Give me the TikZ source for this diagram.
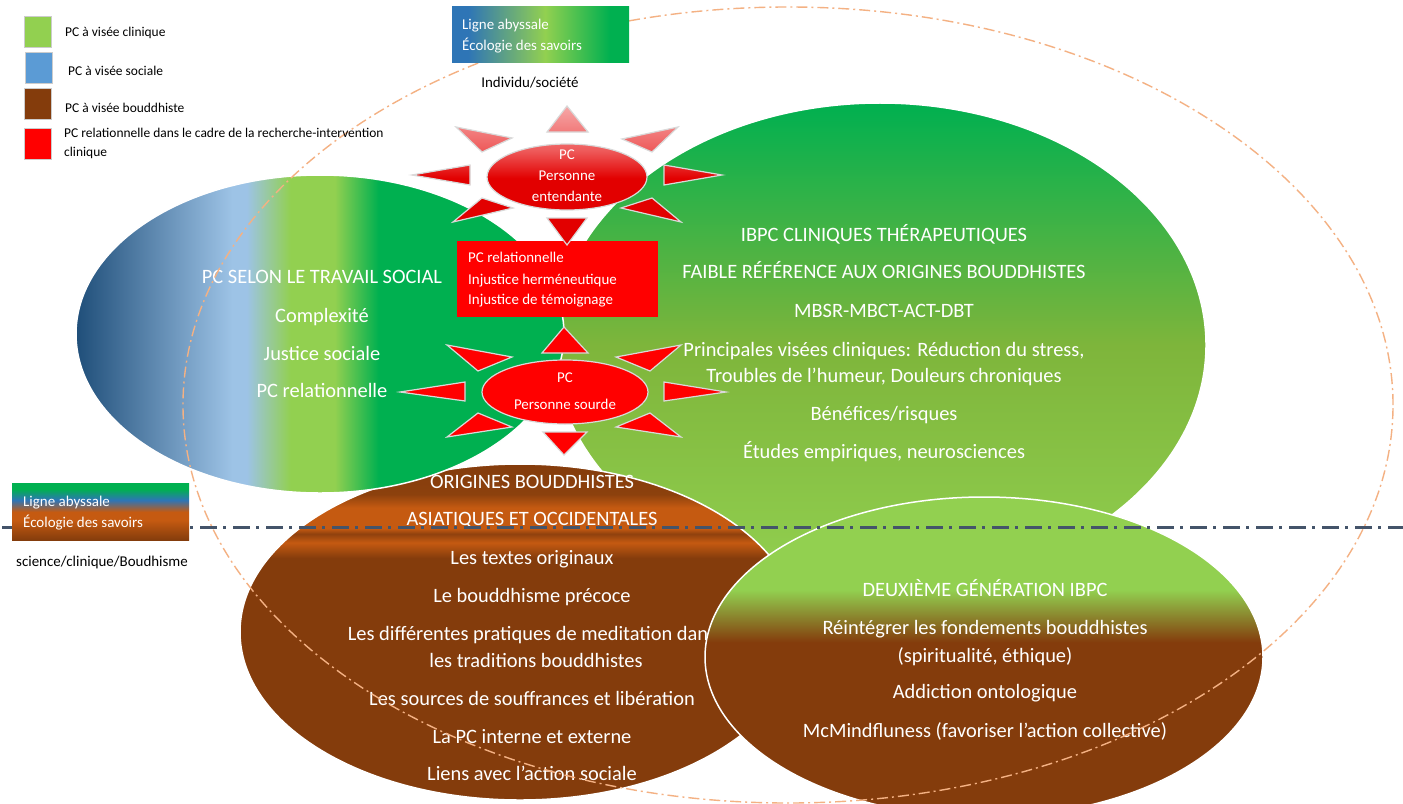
\documentclass[tikz,border=0pt]{standalone}
\usepackage{tikz}
\usepackage{fontspec}
\setmainfont{Carlito}

% palette
\definecolor{cGreen}{HTML}{00B050}
\definecolor{cLight}{HTML}{92D050}
\definecolor{ibpcMid}{HTML}{7EB53B}
\definecolor{sDark}{HTML}{1F4E79}
\definecolor{sLight}{HTML}{9DC3E6}
\definecolor{sBlue}{HTML}{2E75B6}
\definecolor{legBlue}{HTML}{5B9BD5}
\definecolor{bBrown}{HTML}{843C0C}
\definecolor{bOrange}{HTML}{C55A11}
\definecolor{bDark}{HTML}{8F410E}
\definecolor{bWarm}{HTML}{8C410D}
\definecolor{mixBR}{HTML}{8B862E}
\definecolor{sunTop}{HTML}{F6A8A8}
\definecolor{sunMid}{HTML}{EE5A5A}
\definecolor{sunRed}{HTML}{E20000}
\definecolor{dashOrange}{HTML}{F4B183}
\definecolor{slate}{HTML}{44546A}

% gradients (the filled path spans 25bp..75bp of each shading)
\pgfdeclarehorizontalshading{socialshade}{100bp}{color(0bp)=(sDark); color(25bp)=(sDark); color(41bp)=(sLight); color(42.5bp)=(sLight); color(47bp)=(cLight); color(51.5bp)=(cLight); color(56bp)=(cGreen); color(100bp)=(cGreen)}
\pgfdeclareverticalshading{ibpcshade}{100bp}{color(0bp)=(cLight); color(25bp)=(cLight); color(50bp)=(ibpcMid); color(75bp)=(cGreen); color(100bp)=(cGreen)}
\pgfdeclareverticalshading{originshade}{100bp}{color(0bp)=(bBrown); color(61bp)=(bBrown); color(63.3bp)=(bOrange); color(64.6bp)=(bDark); color(65.4bp)=(bOrange); color(68.5bp)=(bOrange); color(70.5bp)=(bWarm); color(75bp)=(bBrown); color(100bp)=(bBrown)}
\pgfdeclareverticalshading{secondshade}{100bp}{color(0bp)=(bBrown); color(52.3bp)=(bBrown); color(56.4bp)=(mixBR); color(60.5bp)=(cLight); color(100bp)=(cLight)}
\pgfdeclareverticalshading{sunshade}{100bp}{color(0bp)=(sunRed); color(49bp)=(sunRed); color(59bp)=(sunMid); color(75bp)=(sunTop); color(100bp)=(sunTop)}
\pgfdeclarehorizontalshading{topboxshade}{100bp}{color(0bp)=(sBlue); color(29.5bp)=(sBlue); color(51.3bp)=(cLight); color(69.6bp)=(cGreen); color(100bp)=(cGreen)}
\pgfdeclareverticalshading{lowboxshade}{100bp}{color(0bp)=(bBrown); color(25bp)=(bBrown); color(42.5bp)=(bOrange); color(49.6bp)=(bOrange); color(60bp)=(sBlue); color(69.7bp)=(cGreen); color(100bp)=(cGreen)}

\begin{document}
\begin{tikzpicture}[x=1bp,y=-1bp,
  bigtxt/.style={text=white,font=\fontsize{20.5}{24}\selectfont,inner sep=0pt,text height=13.2bp,text depth=0pt},
  midtxt/.style={text=white,font=\fontsize{15}{17}\selectfont,inner sep=0pt,text height=9.6bp,text depth=0pt},
  labtxt/.style={text=black,font=\fontsize{15}{17}\selectfont,inner sep=0pt,text height=9.6bp,text depth=0pt},
  keytxt/.style={text=black,font=\fontsize{13.5}{15}\selectfont,inner sep=0pt,text height=8.6bp,text depth=0pt,anchor=west},
  keybox/.style={draw=white!80!black,line width=0.6bp,inner sep=0pt,minimum width=27bp,minimum height=31bp,anchor=north west},
  bigshape/.style={draw=white,line width=1.5bp},
  sunray/.style={draw=white!85!black,line width=1.2bp},
]
\useasboundingbox (0,0) rectangle (1403,803);
\fill[white] (0,0) rectangle (1403,803);

% clinical therapeutic IBPC
\shadedraw[shading=ibpcshade,bigshape] (880,345) ellipse [x radius=326bp, y radius=242bp];
\node[bigtxt] (ibpcA) at (884,235) {IBPC CLINIQUES THÉRAPEUTIQUES};
\node[bigtxt] (ibpcB) at (884,272) {FAIBLE RÉFÉRENCE AUX ORIGINES BOUDDHISTES};
\node[bigtxt] (ibpcC) at (884,311) {MBSR-MBCT-ACT-DBT};
\node[bigtxt] (ibpcD) at (884,350) {Principales visées cliniques: Réduction du stress,};
\node[bigtxt] (ibpcE) at (884,376) {Troubles de l’humeur, Douleurs chroniques};
\node[bigtxt] (ibpcF) at (884,414) {Bénéfices/risques};
\node[bigtxt] (ibpcG) at (884,452) {Études empiriques, neurosciences};

% Buddhist origins
\shadedraw[shading=originshade,bigshape] (520,632) ellipse [x radius=280bp, y radius=168bp];
\node[bigtxt] (origA) at (532,482) {ORIGINES BOUDDHISTES};
\node[bigtxt] (origB) at (532,519) {ASIATIQUES ET OCCIDENTALES};
\node[bigtxt] (origC) at (532,558) {Les textes originaux};
\node[bigtxt] (origD) at (532,596) {Le bouddhisme précoce};
\node[bigtxt] (origE) at (532,634) {Les différentes pratiques de meditation dans};
\node[bigtxt] (origF) at (536,661) {les traditions bouddhistes};
\node[bigtxt] (origG) at (532,699) {Les sources de souffrances et libération};
\node[bigtxt] (origH) at (532,737) {La PC interne et externe};
\node[bigtxt] (origI) at (532,774) {Liens avec l’action sociale};

% social work
\shadedraw[shading=socialshade,bigshape] (320,334) ellipse [x radius=244bp, y radius=159bp];
\node[bigtxt] (socA) at (322,277) {PC SELON LE TRAVAIL SOCIAL};
\node[bigtxt] (socB) at (322,316) {Complexité};
\node[bigtxt] (socC) at (322,354) {Justice sociale};
\node[bigtxt] (socD) at (322,391) {PC relationnelle};

% second generation
\shadedraw[shading=secondshade,bigshape] (984,657) ellipse [x radius=279bp, y radius=160bp];
\node[bigtxt] (genA) at (985,590) {DEUXIÈME GÉNÉRATION IBPC};
\node[bigtxt] (genB) at (985,628) {Réintégrer les fondements bouddhistes};
\node[bigtxt] (genC) at (985,656) {(spiritualité, éthique)};
\node[bigtxt] (genD) at (985,692) {Addiction ontologique};
\node[bigtxt] (genE) at (985,731) {McMindfluness (favoriser l’action collective)};

% relational box
\fill[red] (457,241) rectangle (658,317);
\node[midtxt,anchor=west] (relA) at (468,258) {PC relationnelle};
\node[midtxt,anchor=west] (relB) at (468,280) {Injustice herméneutique};
\node[midtxt,anchor=west] (relC) at (468,300) {Injustice de témoignage};

% hearing person sun
\shadedraw[shading=sunshade,sunray]
  (547,132) -- (567,106) -- (588,132) -- cycle
  (456,127) -- (512,138) -- (482,152) -- cycle
  (678,127) -- (622,139) -- (652,152) -- cycle
  (412,175) -- (470,165) -- (470,185) -- cycle
  (722,175) -- (664,165) -- (664,185) -- cycle
  (453,222) -- (482,198) -- (513,208) -- cycle
  (681,222) -- (652,198) -- (621,208) -- cycle
  (547,218) -- (587,218) -- (567,245) -- cycle
  (567,177) ellipse [x radius=80bp, y radius=33bp];
\node[midtxt] (hearA) at (567,155) {PC};
\node[midtxt] (hearB) at (567,176) {Personne};
\node[midtxt] (hearC) at (567,197) {entendante};

% deaf person sun
\filldraw[fill=red,sunray]
  (542,353) -- (564,327) -- (588,353) -- cycle
  (447,345) -- (512,357) -- (478,371) -- cycle
  (681,345) -- (616,357) -- (650,371) -- cycle
  (400,392) -- (465,382) -- (465,401) -- cycle
  (726,392) -- (664,382) -- (664,401) -- cycle
  (447,437) -- (478,413) -- (512,427) -- cycle
  (681,437) -- (650,413) -- (616,427) -- cycle
  (543,432) -- (587,432) -- (564,455) -- cycle
  (565,392) ellipse [x radius=83bp, y radius=32bp];
\node[midtxt] (deafA) at (565,378) {PC};
\node[midtxt] (deafB) at (565,405) {Personne sourde};

% dash-dot outlines
\draw[dashOrange,line width=1.4bp,dash pattern=on 11bp off 4bp on 2bp off 4bp] (788,405) ellipse [x radius=605bp, y radius=398bp];
\draw[slate,line width=3bp,dash pattern=on 17bp off 6bp on 3bp off 7bp] (2,527) -- (1403,527);

% abyssal line boxes
\shade[shading=topboxshade] (452,7) rectangle (629,63);
\node[midtxt,anchor=west] (topA) at (462,25) {Ligne abyssale};
\node[midtxt,anchor=west] (topB) at (462,46) {Écologie des savoirs};
\node[labtxt] (topC) at (530,83) {Individu/société};

\shade[shading=lowboxshade] (12,483) rectangle (189,540);
\node[midtxt,anchor=west] (lowA) at (23,502) {Ligne abyssale};
\node[midtxt,anchor=west] (lowB) at (23,523) {Écologie des savoirs};
\node[labtxt,anchor=west] (lowC) at (16,562) {science/clinique/Boudhisme};

% key
\node[keybox,fill=cLight] (keyA) at (24,16) {};
\node[keybox,fill=legBlue] (keyB) at (25,52) {};
\node[keybox,fill=bBrown] (keyC) at (24,88) {};
\node[keybox,fill=red] (keyD) at (24,128) {};
\node[keytxt] (keyAt) at (65,32) {PC à visée clinique};
\node[keytxt] (keyBt) at (68,71) {PC à visée sociale};
\node[keytxt] (keyCt) at (65,108) {PC à visée bouddhiste};
\node[keytxt] (keyDt) at (64,133) {PC relationnelle dans le cadre de la recherche-intervention};
\node[keytxt] (keyDu) at (64,152) {clinique};
\end{tikzpicture}
\end{document}
